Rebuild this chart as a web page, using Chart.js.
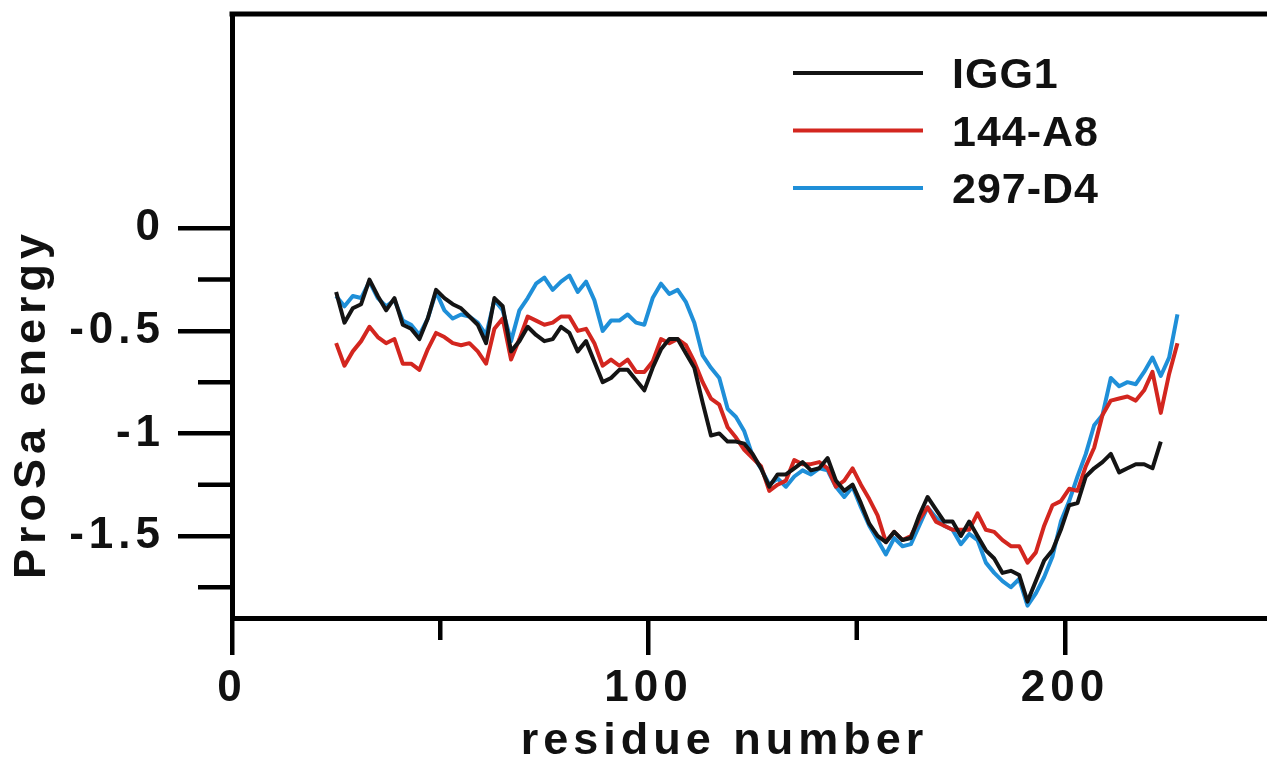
<!DOCTYPE html>
<html><head><meta charset="utf-8">
<script src="https://cdn.jsdelivr.net/npm/chart.js@4.4.1/dist/chart.umd.min.js"></script>
<style>html,body{margin:0;padding:0;background:#fff;overflow:hidden}#wrap{width:1267px;height:763px;position:relative}</style>
</head><body><div id="wrap"><canvas id="c" width="1267" height="763"></canvas></div>
<script>
const residues = [25,27,29,31,33,35,37,39,41,43,45,47,49,51,53,55,57,59,61,63,65,67,69,71,73,75,77,79,81,83,85,87,89,91,93,95,97,99,101,103,105,107,109,111,113,115,117,119,121,123,125,127,129,131,133,135,137,139,141,143,145,147,149,151,153,155,157,159,161,163,165,167,169,171,173,175,177,179,181,183,185,187,189,191,193,195,197,199,201,203,205,207,209,211,213,215,217,219,221,223,225,227];

const igg1 = [-0.31,-0.46,-0.39,-0.37,-0.25,-0.33,-0.40,-0.34,-0.47,-0.49,-0.54,-0.44,-0.30,-0.34,-0.37,-0.39,-0.43,-0.47,-0.56,-0.34,-0.38,-0.60,-0.55,-0.48,-0.52,-0.55,-0.54,-0.48,-0.51,-0.60,-0.55,-0.65,-0.75,-0.73,-0.69,-0.69,-0.74,-0.79,-0.68,-0.59,-0.54,-0.54,-0.61,-0.68,-0.85,-1.01,-1.00,-1.04,-1.04,-1.05,-1.10,-1.17,-1.26,-1.20,-1.20,-1.17,-1.14,-1.18,-1.17,-1.12,-1.23,-1.28,-1.25,-1.34,-1.44,-1.50,-1.53,-1.48,-1.52,-1.51,-1.40,-1.31,-1.37,-1.43,-1.43,-1.50,-1.43,-1.50,-1.57,-1.61,-1.68,-1.67,-1.69,-1.82,-1.72,-1.62,-1.57,-1.47,-1.35,-1.34,-1.21,-1.17,-1.14,-1.10,-1.19,-1.17,-1.15,-1.15,-1.17,-1.04];

const a8 = [-0.56,-0.67,-0.60,-0.55,-0.48,-0.53,-0.56,-0.54,-0.66,-0.66,-0.69,-0.59,-0.51,-0.53,-0.56,-0.57,-0.56,-0.60,-0.66,-0.49,-0.44,-0.64,-0.54,-0.43,-0.45,-0.47,-0.46,-0.43,-0.43,-0.50,-0.49,-0.56,-0.67,-0.64,-0.67,-0.64,-0.70,-0.70,-0.65,-0.54,-0.56,-0.54,-0.57,-0.65,-0.75,-0.83,-0.86,-0.97,-1.02,-1.08,-1.12,-1.16,-1.28,-1.25,-1.23,-1.13,-1.15,-1.15,-1.14,-1.17,-1.26,-1.23,-1.17,-1.25,-1.32,-1.40,-1.53,-1.48,-1.52,-1.50,-1.42,-1.36,-1.43,-1.45,-1.47,-1.47,-1.47,-1.39,-1.47,-1.48,-1.52,-1.55,-1.55,-1.63,-1.58,-1.45,-1.35,-1.33,-1.27,-1.28,-1.16,-1.07,-0.91,-0.84,-0.83,-0.82,-0.84,-0.79,-0.70,-0.90,-0.71,-0.56];

const d4 = [-0.33,-0.38,-0.33,-0.34,-0.26,-0.34,-0.38,-0.35,-0.45,-0.47,-0.52,-0.44,-0.31,-0.40,-0.44,-0.42,-0.43,-0.46,-0.52,-0.35,-0.40,-0.55,-0.40,-0.34,-0.27,-0.24,-0.30,-0.26,-0.23,-0.31,-0.26,-0.35,-0.50,-0.45,-0.45,-0.42,-0.46,-0.47,-0.34,-0.27,-0.32,-0.30,-0.36,-0.46,-0.62,-0.68,-0.73,-0.88,-0.92,-0.99,-1.11,-1.17,-1.25,-1.22,-1.26,-1.21,-1.18,-1.20,-1.17,-1.18,-1.26,-1.31,-1.26,-1.36,-1.45,-1.52,-1.59,-1.51,-1.55,-1.54,-1.45,-1.36,-1.41,-1.45,-1.47,-1.54,-1.49,-1.52,-1.63,-1.68,-1.72,-1.75,-1.71,-1.84,-1.78,-1.70,-1.60,-1.43,-1.33,-1.21,-1.10,-0.96,-0.91,-0.73,-0.77,-0.75,-0.76,-0.70,-0.63,-0.72,-0.63,-0.42];

const seriesNames = ['IGG1', '144-A8', '297-D4'];
const seriesColors = ['#141414', '#d3261f', '#1f8fd8'];
const xMajorTicks = [0, 100, 200];
const xMinorTicks = [50, 150, 250];
const yMajorTicks = [0, -0.5, -1, -1.5];
const yMinorTicks = [-0.25, -0.75, -1.25, -1.75];
const xTitle = 'residue number';
const yTitle = 'ProSa energy';

const FONT = "'Liberation Sans', Arial, Helvetica, sans-serif";
Chart.defaults.font.family = FONT;
Chart.defaults.font.weight = 'bold';
Chart.defaults.color = '#111';

const LS = '5px';
const spacingPlugin = {
  id: 'spacing',
  beforeUpdate(c) { c.ctx.letterSpacing = LS; },
  beforeLayout(c) { c.ctx.letterSpacing = LS; },
  beforeDraw(c) { c.ctx.letterSpacing = LS; }
};

// the reference places its axis titles off-centre; shift Chart.js's own title drawing
const titleShift = { x: [-25, 6], y: [0, 88] };
const titleShiftPlugin = {
  id: 'titleShift',
  afterLayout(chart) {
    Object.keys(titleShift).forEach(id => {
      const s = chart.scales[id];
      if (!s || s._shiftPatched) return;
      const orig = s.drawTitle;
      s.drawTitle = function () {
        const c = this.ctx;
        c.save();
        c.translate(titleShift[id][0], titleShift[id][1]);
        orig.apply(this, arguments);
        c.restore();
      };
      s._shiftPatched = true;
    });
  }
};

const decorPlugin = {
  id: 'decor',
  afterDraw(chart) {
    const ctx = chart.ctx, a = chart.chartArea, x = chart.scales.x, y = chart.scales.y;
    ctx.save();
    ctx.strokeStyle = '#000';
    ctx.lineCap = 'butt';
    ctx.lineWidth = 5;
    ctx.beginPath(); ctx.moveTo(a.left - 2.5, a.top); ctx.lineTo(chart.width, a.top); ctx.stroke();
    ctx.lineWidth = 4.5;
    xMinorTicks.forEach(v => {
      const px = x.getPixelForValue(v);
      if (px > chart.width) return;
      ctx.beginPath(); ctx.moveTo(px, a.bottom); ctx.lineTo(px, a.bottom + 22); ctx.stroke();
    });
    yMinorTicks.forEach(v => {
      const py = y.getPixelForValue(v);
      ctx.beginPath(); ctx.moveTo(a.left - 34, py); ctx.lineTo(a.left, py); ctx.stroke();
    });
    // legend
    ctx.letterSpacing = '1px';
    ctx.font = "bold 43px " + FONT;
    ctx.textBaseline = 'alphabetic';
    ctx.textAlign = 'left';
    chart.data.datasets.forEach((ds, i) => {
      const ly = 73 + i * 57.5;
      ctx.strokeStyle = ds.borderColor;
      ctx.lineWidth = 4;
      ctx.beginPath(); ctx.moveTo(793, ly); ctx.lineTo(923, ly); ctx.stroke();
      ctx.fillStyle = '#111';
      ctx.fillText(ds.label, 952, ly + 15);
    });
    ctx.restore();
  }
};

const seriesValues = [igg1, a8, d4];
const datasets = seriesValues.map((vals, i) => ({
  label: seriesNames[i],
  data: vals.map((v, j) => ({ x: residues[j], y: v })),
  borderColor: seriesColors[i],
  backgroundColor: seriesColors[i],
  borderWidth: 4,
  borderJoinStyle: 'round',
  pointRadius: 0,
  tension: 0,
  fill: false
}));

new Chart(document.getElementById('c'), {
  type: 'line',
  data: { datasets },
  plugins: [spacingPlugin, titleShiftPlugin, decorPlugin],
  options: {
    responsive: false,
    animation: false,
    layout: { padding: { top: 14, left: 0, right: 0, bottom: 0 } },
    plugins: { legend: { display: false }, tooltip: { enabled: false } },
    scales: {
      x: {
        type: 'linear', min: 0, max: 248.5,
        afterFit(s) { s.height = 145; s.paddingLeft = 0; s.paddingRight = 0; },
        afterBuildTicks(s) { s.ticks = xMajorTicks.map(v => ({ value: v })); },
        grid: { display: true, drawOnChartArea: false, drawTicks: true, tickLength: 37, color: '#000', tickColor: '#000', tickWidth: 4.5, lineWidth: 4.5 },
        border: { display: true, color: '#000', width: 5 },
        ticks: { font: { size: 44, weight: 'bold' }, color: '#111', padding: 7, autoSkip: false, maxRotation: 0, callback: v => String(v) },
        title: { display: true, text: xTitle, font: { size: 45, weight: 'bold' }, color: '#111', padding: { top: 0, bottom: 0 } }
      },
      y: {
        type: 'linear', min: -1.9, max: 1.045,
        afterFit(s) { s.width = 232; s.paddingTop = 0; s.paddingBottom = 0; },
        afterBuildTicks(s) { s.ticks = yMajorTicks.map(v => ({ value: v })); },
        grid: { display: true, drawOnChartArea: false, drawTicks: true, tickLength: 54, color: '#000', tickColor: '#000', tickWidth: 4.5, lineWidth: 4.5 },
        border: { display: true, color: '#000', width: 5 },
        ticks: { font: { size: 44, weight: 'bold' }, color: '#111', padding: 13, autoSkip: false, callback: v => String(v) },
        title: { display: true, text: yTitle, font: { size: 45, weight: 'bold' }, color: '#111', padding: { top: 6, bottom: 0 } }
      }
    }
  }
});
</script>
</body></html>
